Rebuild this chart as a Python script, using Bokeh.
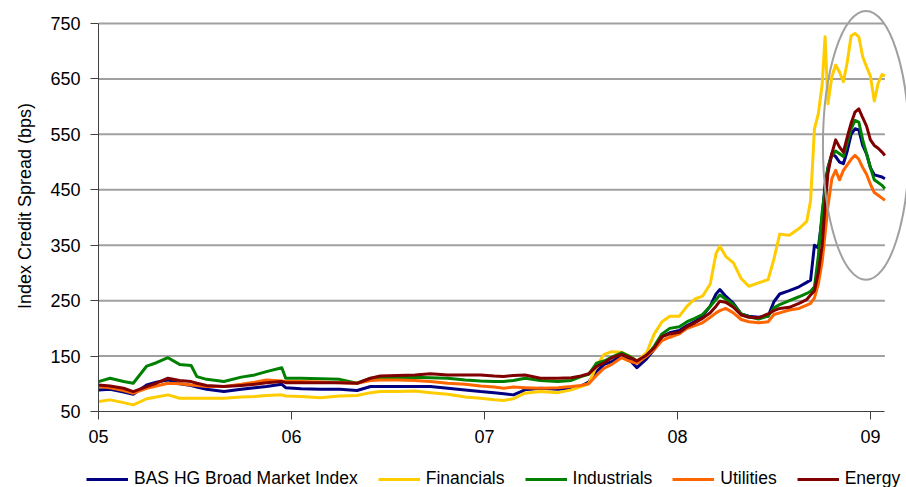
from bokeh.plotting import figure
from bokeh.layouts import column
from bokeh.models import Range1d, FixedTicker, Legend, LegendItem
from bokeh.embed import file_html
from bokeh.resources import INLINE

# ---- data (fractional years, spreads in bps) ----
dates = [2005.00, 2005.06, 2005.13, 2005.18, 2005.25, 2005.30, 2005.36, 2005.42, 2005.48, 2005.51,
         2005.56, 2005.65, 2005.74, 2005.81, 2005.87, 2005.95, 2005.97, 2006.05, 2006.15, 2006.25,
         2006.34, 2006.41, 2006.46, 2006.55, 2006.64, 2006.72, 2006.81, 2006.90, 2006.98, 2007.05,
         2007.10, 2007.15, 2007.21, 2007.29, 2007.38, 2007.45, 2007.50, 2007.54, 2007.58, 2007.62,
         2007.66, 2007.71, 2007.75, 2007.79, 2007.84, 2007.88, 2007.92, 2007.96, 2008.01, 2008.05,
         2008.09, 2008.13, 2008.17, 2008.20, 2008.22, 2008.25, 2008.29, 2008.33, 2008.37, 2008.42,
         2008.47, 2008.50, 2008.53, 2008.58, 2008.63, 2008.67, 2008.69, 2008.71, 2008.73, 2008.75,
         2008.765, 2008.78, 2008.80, 2008.82, 2008.84, 2008.86, 2008.88, 2008.90, 2008.92, 2008.94,
         2008.96, 2008.98, 2009.00, 2009.02, 2009.04, 2009.06, 2009.075]

bas = [89, 90, 85, 81, 98, 103, 107, 100, 97, 94,
       90, 86, 90, 93, 95, 99, 93, 91, 90, 90,
       88, 95, 95, 95, 95, 95, 92, 89, 86, 84,
       82, 80, 89, 92, 90, 92, 96, 103, 122, 135,
       140, 150, 144, 129, 145, 162, 185, 192, 196, 205,
       212, 222, 240, 262, 270, 258, 245, 226, 222, 220,
       222, 248, 262, 268, 275, 283, 287, 350, 345, 400,
       460, 490, 515, 510, 500, 497, 520, 550, 560, 558,
       530, 515, 490, 477, 475, 473, 470]

financials = [68, 71, 66, 62, 73, 76, 80, 74, 74, 74,
              74, 74, 76, 77, 79, 80, 78, 77, 75, 78,
              79, 84, 86, 86, 87, 84, 81, 76, 74, 71,
              70, 73, 83, 86, 84, 89, 95, 100, 132, 153,
              158, 157, 150, 141, 156, 190, 212, 222, 222, 240,
              253, 258, 280, 335, 348, 330, 318, 290, 276, 282,
              288, 325, 370, 368, 380, 393, 430, 560, 587, 640,
              726, 605, 654, 675, 662, 645, 680, 728, 732, 726,
              690, 672, 655, 610, 642, 658, 655]

industrials = [104, 110, 104, 101, 132, 138, 147, 135, 133, 113,
               108, 104, 112, 116, 122, 129, 110, 110, 109, 108,
               101, 110, 110, 111, 112, 111, 110, 107, 105, 104,
               104, 106, 110, 106, 104, 106, 113, 117, 137, 141,
               148, 156, 150, 141, 150, 168, 190, 200, 203, 212,
               218, 225, 240, 252, 260, 253, 243, 226, 221, 217,
               222, 237, 243, 250, 257, 263, 267, 275, 330, 410,
               450, 490, 512, 520, 515, 510, 535, 560, 575, 572,
               540, 515, 490, 468, 463, 458, 452]

utilities = [95, 93, 88, 83, 92, 96, 101, 100, 98, 97,
             95, 95, 99, 103, 107, 105, 104, 104, 103, 102,
             101, 106, 107, 107, 106, 104, 101, 99, 96, 94,
             92, 94, 93, 92, 93, 95, 97, 100, 115, 128,
             135, 147, 141, 137, 150, 162, 178, 184, 190, 200,
             205, 210, 220, 228, 232, 236, 228, 216, 212, 210,
             212, 225, 228, 233, 236, 242, 245, 255, 280, 320,
             370, 420, 470, 485, 468, 485, 495, 505, 512, 505,
             490, 478, 460, 445, 440, 435, 431]

energy = [98, 96, 92, 86, 95, 101, 110, 106, 104, 101,
          97, 95, 97, 99, 102, 104, 102, 102, 102, 102,
          101, 110, 114, 115, 116, 118, 116, 116, 116, 114,
          113, 115, 116, 110, 110, 111, 114, 118, 131, 138,
          147, 153, 148, 141, 152, 165, 185, 190, 193, 203,
          210, 218, 228, 240, 249, 247, 238, 224, 220, 219,
          226, 232, 236, 238, 245, 252, 260, 268, 300, 350,
          420, 480, 515, 540, 527, 518, 545, 570, 590, 596,
          580, 565, 540, 530, 525, 518, 512]

series_names = ["BAS HG Broad Market Index", "Financials", "Industrials", "Utilities", "Energy"]
series_colors = ["#000080", "#FFCC00", "#008000", "#FF6600", "#800000"]
x_ticks = [2005, 2006, 2007, 2008, 2009]
x_tick_labels = ["05", "06", "07", "08", "09"]
y_ticks = [50, 150, 250, 350, 450, 550, 650, 750]

# highlight ellipse (data units)
ell_x, ell_y, ell_w, ell_h = 2008.977, 530.0, 0.446, 485.0

X_START, X_AXIS_END, X_FRAME_END = 2005.0, 2009.075, 2009.187
Y_START, Y_FRAME_END = 50, 791.5

FONT = "Liberation Sans"

p = figure(width=906, height=456, output_backend="svg", toolbar_location=None,
           x_range=Range1d(X_START, X_FRAME_END), y_range=Range1d(Y_START, Y_FRAME_END),
           min_border_left=98, min_border_right=0, min_border_top=0, min_border_bottom=45)
p.outline_line_color = None
p.background_fill_color = "white"
p.border_fill_color = "white"
p.xgrid.visible = False
p.ygrid.visible = False

# horizontal gridlines (bounded to the axis extent)
gl = [v for v in y_ticks if v != Y_START]
p.segment(x0=[X_START] * len(gl), y0=gl, x1=[X_AXIS_END] * len(gl), y1=gl,
          line_color="#A0A0A0", line_width=2)

for vals, col in zip([bas, financials, industrials, utilities, energy], series_colors):
    p.line(dates, vals, line_color=col, line_width=3, line_join="round")

p.ellipse(x=[ell_x], y=[ell_y], width=[ell_w], height=[ell_h],
          fill_color=None, line_color="#A0A0A0", line_width=2)

# axes
xa = p.xaxis[0]
xa.ticker = FixedTicker(ticks=x_ticks)
xa.major_label_overrides = {t: l for t, l in zip(x_ticks, x_tick_labels)}
xa.bounds = (X_START, X_AXIS_END)
xa.minor_tick_line_color = None
xa.major_tick_in = 0
xa.major_tick_out = 8
xa.major_label_standoff = 10
xa.axis_line_color = "#404040"
xa.major_tick_line_color = "#404040"
xa.major_label_text_font = FONT
xa.major_label_text_font_size = "18px"
xa.major_label_text_color = "black"

ya = p.yaxis[0]
ya.ticker = FixedTicker(ticks=y_ticks)
ya.bounds = (Y_START, 750)
ya.minor_tick_line_color = None
ya.major_tick_in = 0
ya.major_tick_out = 8
ya.major_label_standoff = 10
ya.axis_line_color = "#404040"
ya.major_tick_line_color = "#404040"
ya.major_label_text_font = FONT
ya.major_label_text_font_size = "18px"
ya.major_label_text_color = "black"
ya.axis_label = "Index Credit Spread (bps)"
ya.axis_label_text_font = FONT
ya.axis_label_text_font_size = "18px"
ya.axis_label_text_font_style = "normal"
ya.axis_label_text_color = "black"
ya.axis_label_standoff = 12

# legend strip below the chart
pl = figure(width=906, height=31, output_backend="svg", toolbar_location=None,
            x_range=Range1d(0, 1), y_range=Range1d(0, 1),
            x_axis_location=None, y_axis_location=None,
            min_border_left=0, min_border_right=0, min_border_top=0, min_border_bottom=0)
pl.outline_line_color = None
pl.xgrid.visible = False
pl.ygrid.visible = False

leg_x, leg_spacing = 86, 20
try:
    pl.frame_align = False
    p.frame_align = False
except Exception:
    leg_x, leg_spacing = 0, 17

nan = float("nan")
swatches = [pl.line(x=[nan], y=[nan], line_color=c, line_width=3) for c in series_colors]
legend = Legend(items=[LegendItem(label=n, renderers=[r]) for n, r in zip(series_names, swatches)],
                orientation="horizontal", location=(leg_x, -2), padding=0, margin=0,
                spacing=leg_spacing, glyph_width=42, glyph_height=20, label_standoff=6,
                label_text_font=FONT, label_text_font_size="17.5px", label_text_color="black",
                border_line_color=None, background_fill_alpha=0)
pl.add_layout(legend)

layout = column(p, pl, spacing=0)
open("out.html", "w").write(file_html(layout, INLINE))
